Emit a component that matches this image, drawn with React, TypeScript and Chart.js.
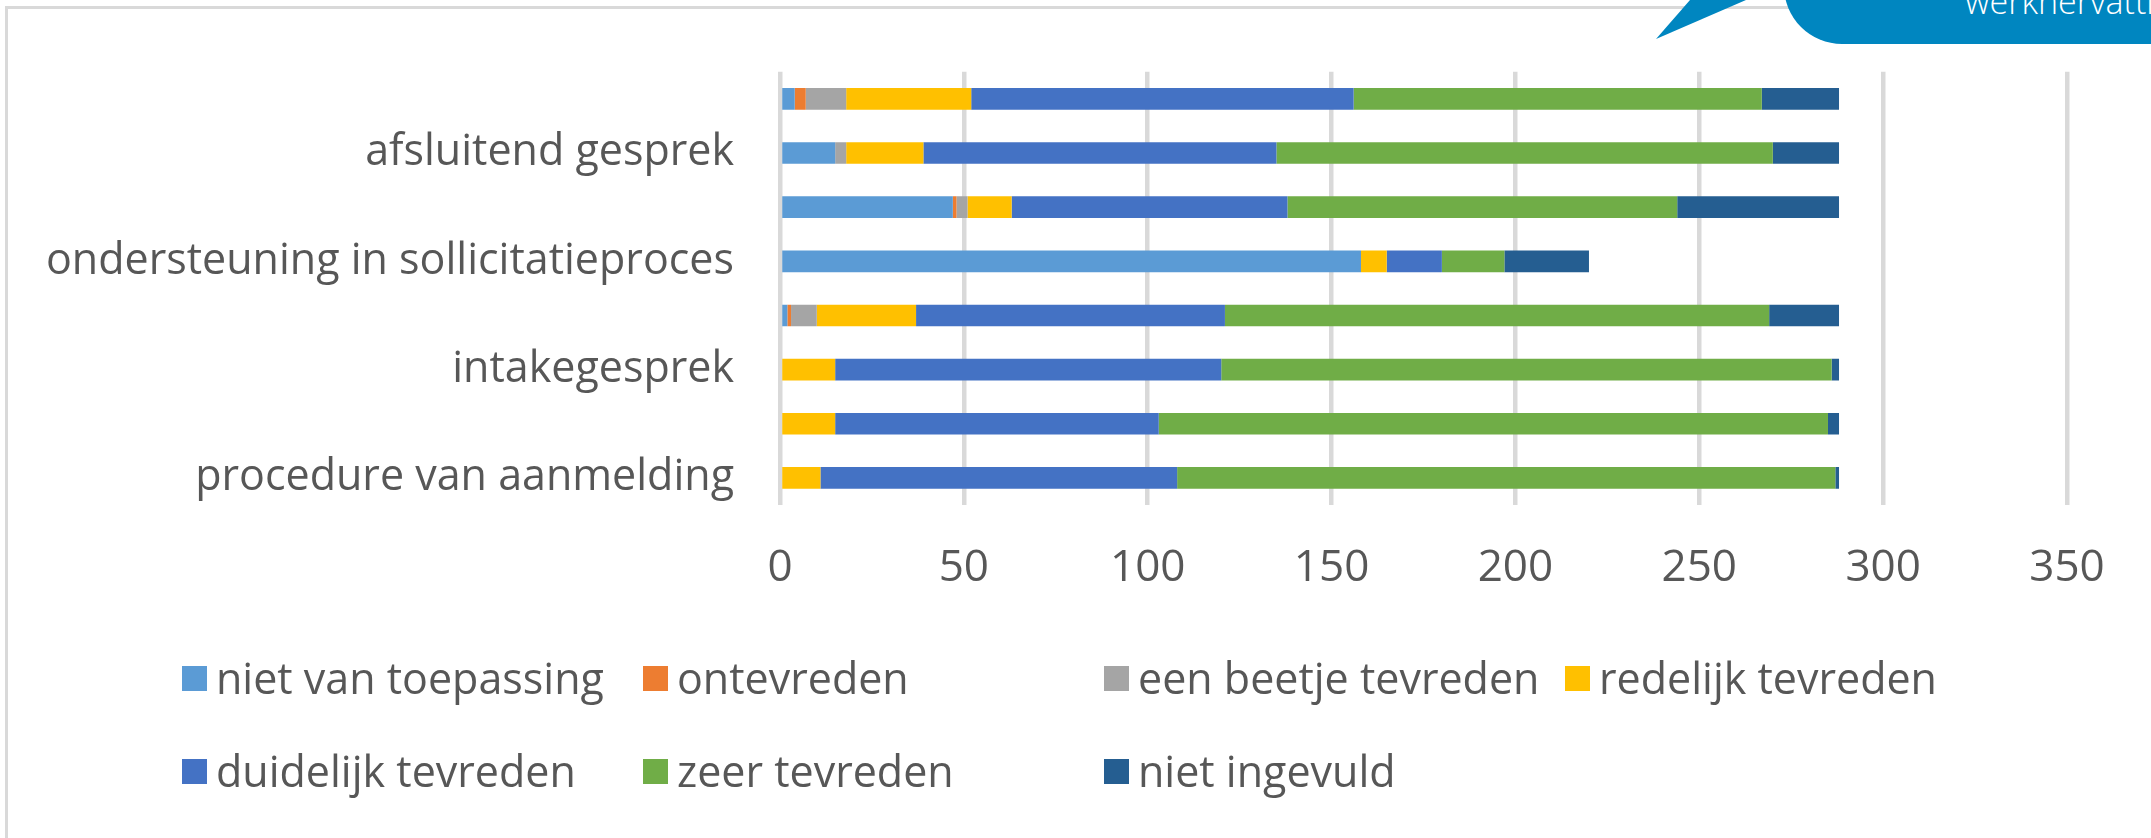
import React, { useEffect, useRef } from "react";
import { Chart, registerables } from "chart.js";

Chart.register(...registerables);

// Categories, top to bottom (labels Excel did not print are left empty)
const categories = [
  "",
  "afsluitend gesprek",
  "",
  "ondersteuning in sollicitatieproces",
  "",
  "intakegesprek",
  "",
  "procedure van aanmelding",
];

const nietVanToepassing = [4, 15, 47, 158, 2, 0, 0, 0];
const ontevreden = [3, 0, 1, 0, 1, 0, 0, 0];
const eenBeetjeTevreden = [11, 3, 3, 0, 7, 0, 0, 0];
const redelijkTevreden = [34, 21, 12, 7, 27, 15, 15, 11];
const duidelijkTevreden = [104, 96, 75, 15, 84, 105, 88, 97];
const zeerTevreden = [111, 135, 106, 17, 148, 166, 182, 179];
const nietIngevuld = [21, 18, 44, 23, 19, 2, 3, 1];

const seriesNames = [
  "niet van toepassing",
  "ontevreden",
  "een beetje tevreden",
  "redelijk tevreden",
  "duidelijk tevreden",
  "zeer tevreden",
  "niet ingevuld",
];
const seriesValues = [
  nietVanToepassing,
  ontevreden,
  eenBeetjeTevreden,
  redelijkTevreden,
  duidelijkTevreden,
  zeerTevreden,
  nietIngevuld,
];
const seriesColors = ["#5B9BD5", "#ED7D31", "#A5A5A5", "#FFC000", "#4472C4", "#70AD47", "#255E91"];

const xMin = 0;
const xMax = 350;
const xStep = 50;

const calloutText = "werkhervatting";

const FONT = "'Open Sans', 'Noto Sans', sans-serif";
const TEXT_COLOR = "#575757";
const GRID_COLOR = "#D9D9D9";

export default function App() {
  const canvasRef = useRef<HTMLCanvasElement | null>(null);

  useEffect(() => {
    const canvas = canvasRef.current;
    if (!canvas) return;
    const chart = new Chart(canvas, {
      type: "bar",
      data: {
        labels: categories,
        datasets: seriesNames.map((name, i) => ({
          label: name,
          data: seriesValues[i],
          backgroundColor: seriesColors[i],
          borderWidth: 0,
          categoryPercentage: 1,
          barPercentage: 0.4,
        })),
      },
      options: {
        indexAxis: "y",
        responsive: false,
        animation: false,
        devicePixelRatio: 1,
        layout: { padding: { left: 0, top: 67, right: 84, bottom: 0 } },
        plugins: {
          legend: { display: false },
          tooltip: { enabled: false },
          title: { display: false },
        },
        scales: {
          x: {
            stacked: true,
            min: xMin,
            max: xMax,
            ticks: {
              stepSize: xStep,
              padding: 37,
              color: TEXT_COLOR,
              font: { family: FONT, size: 44 },
              maxRotation: 0,
            },
            grid: { color: GRID_COLOR, lineWidth: 4.5, drawTicks: false },
            border: { display: false },
            afterFit: (s: any) => {
              s.height = 333;
            },
          },
          y: {
            stacked: true,
            ticks: {
              autoSkip: false,
              padding: 46,
              color: TEXT_COLOR,
              font: { family: FONT, size: 43 },
            },
            grid: { display: false, drawTicks: false },
            border: { display: false },
            afterFit: (s: any) => {
              s.width = 780;
            },
          },
        },
      },
    });
    return () => chart.destroy();
  }, []);

  const legendRows = [
    [0, 1, 2, 3],
    [4, 5, 6],
  ];
  const rowCenters = [678, 771];

  return (
    <div
      style={{
        position: "absolute",
        left: 0,
        top: 0,
        width: 2151,
        height: 838,
        overflow: "hidden",
        background: "#FFFFFF",
      }}
    >
      {/* frame */}
      <div
        style={{
          position: "absolute",
          left: 5,
          top: 6,
          width: 2300,
          height: 1000,
          borderLeft: "3px solid " + GRID_COLOR,
          borderTop: "3px solid " + GRID_COLOR,
        }}
      />
      <canvas
        ref={canvasRef}
        width={2151}
        height={838}
        style={{ position: "absolute", left: 0, top: 0, width: 2151, height: 838 }}
      />
      {/* legend */}
      {legendRows.map((row, r) =>
        row.map((idx, c) => (
          <div
            key={idx}
            style={{
              position: "absolute",
              left: 182 + c * 461,
              top: rowCenters[r] - 25,
              height: 50,
              display: "flex",
              alignItems: "center",
              whiteSpace: "nowrap",
            }}
          >
            <div style={{ width: 25, height: 25, background: seriesColors[idx], marginRight: 9 }} />
            <span
              style={{
                fontFamily: FONT,
                fontSize: 43,
                lineHeight: "50px",
                color: TEXT_COLOR,
              }}
            >
              {seriesNames[idx]}
            </span>
          </div>
        ))
      )}
      {/* callout */}
      <svg
        width={2151}
        height={60}
        style={{ position: "absolute", left: 0, top: 0 }}
      >
        <polygon points="1656,39 1690,0 1746,0" fill="#0086C0" />
      </svg>
      <div
        style={{
          position: "absolute",
          left: 1784,
          top: -60,
          width: 500,
          height: 104,
          background: "#0086C0",
          borderBottomLeftRadius: 58,
        }}
      />
      <div
        style={{
          position: "absolute",
          left: 1965,
          top: -22,
          fontFamily: FONT,
          fontSize: 34,
          fontWeight: 300,
          lineHeight: "46px",
          color: "#FFFFFF",
          whiteSpace: "nowrap",
        }}
      >
        {calloutText}
      </div>
    </div>
  );
}
